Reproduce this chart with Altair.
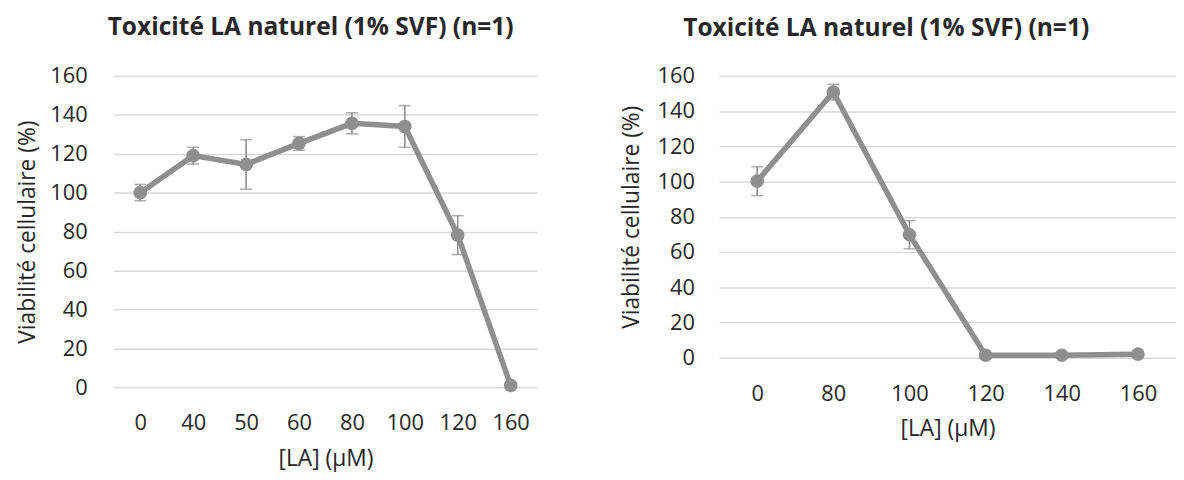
import altair as alt
import pandas as pd

# ---- data ----
title_text = "Toxicité LA naturel (1% SVF) (n=1)"
x_title = "[LA] (µM)"
y_title = "Viabilité cellulaire (%)"
y_ticks = [0, 20, 40, 60, 80, 100, 120, 140, 160]

left_conc = ["0", "40", "50", "60", "80", "100", "120", "160"]
left_mean = [100.0, 119.0, 114.5, 125.3, 135.6, 134.0, 78.2, 1.0]
left_err = [4.2, 4.3, 12.7, 3.5, 5.4, 10.7, 10.0, 0.0]

right_conc = ["0", "80", "100", "120", "140", "160"]
right_mean = [100.2, 150.8, 69.8, 1.4, 1.4, 2.0]
right_err = [8.2, 4.4, 8.0, 0.0, 0.0, 0.0]

GRAY = "#8F8F8F"
TEXT = "#262626"
FONT = "Open Sans"


def panel(conc, mean, err, width, height, title_dx, title_offset, y_lp, y_tp):
    df = pd.DataFrame({"conc": conc, "mean": mean, "err": err})
    df["lo"] = df["mean"] - df["err"]
    df["hi"] = df["mean"] + df["err"]
    df = df.assign(order=range(len(df)))

    x = alt.X(
        "conc:N",
        sort=conc,
        title=x_title,
        scale=alt.Scale(type="point", padding=0.5),
        axis=alt.Axis(labelAngle=0, labelPadding=26, titlePadding=14, grid=False),
    )
    y_scale = alt.Scale(domain=[0, 160], nice=False)
    y_axis = alt.Axis(values=y_ticks, labelPadding=y_lp, titlePadding=y_tp, grid=True,
                      labelOverlap=False, title=y_title)

    def Y(field):
        return alt.Y(field, type="quantitative", scale=y_scale, axis=y_axis, title=y_title)

    base = alt.Chart(df)
    line = base.mark_line(color=GRAY, strokeWidth=5.5).encode(
        x=x, y=Y("mean"), order="order:Q"
    )
    pts = base.mark_circle(color=GRAY, size=190, opacity=1).encode(x=x, y=Y("mean"))
    bars = base.transform_filter("datum.err > 0")
    rule = bars.mark_rule(color=GRAY, strokeWidth=1.6).encode(
        x=x, y=Y("lo"), y2="hi:Q"
    )
    cap_lo = bars.mark_tick(color=GRAY, size=12, thickness=1.6).encode(x=x, y=Y("lo"))
    cap_hi = bars.mark_tick(color=GRAY, size=12, thickness=1.6).encode(x=x, y=Y("hi"))

    return alt.layer(line, pts, rule, cap_lo, cap_hi).properties(
        width=width,
        height=height,
        title=alt.TitleParams(
            title_text,
            fontSize=24.8,
            fontWeight="bold",
            font=FONT,
            color=TEXT,
            dx=title_dx,
            offset=title_offset,
            anchor="middle",
        ),
    )


left = panel(left_conc, left_mean, left_err, 428, 315, -15, 25, 27, 10)
right = panel(right_conc, right_mean, right_err, 462, 285, -62, 24, 25, 14)

chart = (
    alt.hconcat(left, right, spacing=84)
    .properties(padding={"left": 9, "top": 5, "right": 0, "bottom": 0})
    .configure_view(stroke=None)
    .configure_axis(
        labelFont=FONT,
        titleFont=FONT,
        labelFontSize=22,
        titleFontSize=23,
        titleFontWeight="normal",
        labelColor=TEXT,
        titleColor=TEXT,
        domain=False,
        ticks=False,
        gridColor="#D9D9D9",
        gridWidth=1.5,
    )
)

chart.save("out.html", embed_options={"renderer": "svg", "actions": False})
